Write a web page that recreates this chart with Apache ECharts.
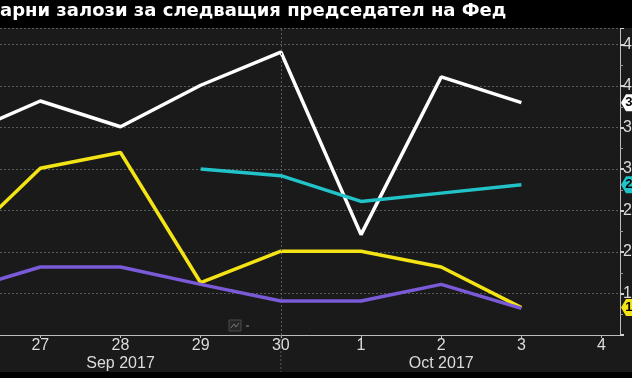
<!DOCTYPE html>
<html><head><meta charset="utf-8">
<script src="https://cdn.jsdelivr.net/npm/echarts@6/dist/echarts.min.js"></script>
<style>html,body{margin:0;padding:0;background:#000;overflow:hidden}#c{width:632px;height:378px;}</style>
</head><body><div id="c"></div>
<script>
const titleText = 'арни залози за следващия председател на Фед';
const dayLabels = ['26', '27', '28', '29', '30', '1', '2', '3', '4'];
const monthLabels = { 2: 'Sep 2017', 6: 'Oct 2017' };
const whiteVals  = [34.0, 38.2, 35.1, 40.1, 44.1, 22.1, 41.1, 38.0];
const yellowVals = [20.8, 30.1, 32.0, 16.3, 20.1, 20.1, 18.2, 13.3];
const purpleVals = [15.3, 18.2, 18.2, 16.1, 14.1, 14.1, 16.1, 13.2];
const cyanVals   = [null, null, null, 30.0, 29.2, 26.1, 27.1, 28.1];
const Y_MIN = 10, Y_MAX = 47, Y_STEP = 5;
const X_MIN = -1, X_MAX = 8.23;
const SEP_INDEX = 4;

const toPairs = arr => arr.map((v, i) => [i, v]).filter(p => p[1] !== null);
const lastOf = arr => { for (let i = arr.length - 1; i >= 0; i--) if (arr[i] !== null) return arr[i]; };

const chart = echarts.init(document.getElementById('c'), null, { renderer: 'canvas' });

function tag(arr, color, textColor) {
  const v = lastOf(arr);
  return {
    symbol: 'path://M0,8 L5,0 L30,0 L30,16 L5,16 Z',
    symbolSize: [30, 17],
    symbolOffset: [16, 0],
    silent: true,
    itemStyle: { color: color },
    label: { show: true, color: textColor, fontSize: 13, fontWeight: 'bold', fontFamily: 'Liberation Sans', offset: [2, 0], formatter: v.toFixed(1) },
    data: [{ coord: [X_MAX, v], value: v }]
  };
}

function lineSeries(name, arr, color, z, withTag, textColor) {
  const s = {
    name: name, type: 'line', data: toPairs(arr), showSymbol: false, symbol: 'none',
    lineStyle: { color: color, width: 3.5 }, itemStyle: { color: color }, z: z,
    animation: false, clip: false
  };
  if (withTag) s.markPoint = tag(arr, color, textColor);
  return s;
}

const axisTextStyle = { color: '#dcdcdc', fontSize: 16, fontFamily: 'Liberation Sans' };

const option = {
  backgroundColor: '#1a1a1a',
  animation: false,
  grid: { left: -120, right: 12, top: 28, bottom: 43, containLabel: false, outerBoundsMode: 'none' },
  xAxis: [{
    type: 'value', min: X_MIN, max: X_MAX, interval: 1,
    axisLine: { show: true, onZero: false, lineStyle: { color: '#bdbdbd', width: 1 } },
    axisTick: { show: true, length: 3, lineStyle: { color: '#bdbdbd' } },
    splitLine: { show: false },
    axisLabel: Object.assign({ margin: 3, showMaxLabel: false,
      formatter: v => (Number.isInteger(v) && v >= 0 && v < dayLabels.length) ? dayLabels[v] : '' }, axisTextStyle)
  }, {
    type: 'value', min: X_MIN, max: X_MAX, interval: 1, position: 'bottom', offset: 18,
    axisLine: { show: false, onZero: false }, axisTick: { show: false }, splitLine: { show: false },
    axisLabel: Object.assign({ margin: 3, showMaxLabel: false,
      formatter: v => monthLabels[v] || '' }, axisTextStyle)
  }],
  yAxis: {
    type: 'value', position: 'right', min: Y_MIN, max: Y_MAX, interval: Y_STEP,
    axisLine: { show: true, onZero: false, lineStyle: { color: '#bdbdbd', width: 1 } },
    axisTick: { show: true, length: 4, lineStyle: { color: '#d0d0d0', width: 2 } },
    minorTick: { show: true, splitNumber: 2, length: 3, lineStyle: { color: '#9a9a9a' } },
    splitLine: { show: true, lineStyle: { color: '#5a5a5a', type: [2, 2], width: 1 } },
    axisLabel: Object.assign({ margin: 3, showMaxLabel: false, showMinLabel: false,
      formatter: v => (v % Y_STEP === 0 && v > Y_MIN) ? String(v) : '' }, axisTextStyle)
  },
  series: [
    Object.assign(lineSeries('white', whiteVals, '#ffffff', 3, true, '#000'), {
      markLine: {
        silent: true, symbol: 'none', animation: false,
        lineStyle: { color: '#5a5a5a', type: [2, 2], width: 1 },
        label: { show: false },
        data: [{ xAxis: SEP_INDEX }]
      }
    }),
    lineSeries('yellow', yellowVals, '#f4e416', 4, true, '#000'),
    lineSeries('cyan', cyanVals, '#22c3c8', 5, true, '#000'),
    lineSeries('purple', purpleVals, '#7a5ad8', 6, false)
  ]
};
chart.setOption(option);

const sepTop = chart.convertToPixel({ xAxisIndex: 0, yAxisIndex: 0 }, [SEP_INDEX, Y_MIN]);
chart.setOption({
  graphic: [
    { type: 'rect', silent: true, z: 100, shape: { x: 0, y: 0, width: 632, height: 28 }, style: { fill: '#000' } },
    { type: 'rect', silent: true, z: 100, shape: { x: 0, y: 372, width: 632, height: 6 }, style: { fill: '#000' } },
    { type: 'text', silent: true, z: 101, left: 0, top: 2,
      style: { text: titleText, fill: '#ffffff', font: 'bold 18px "DejaVu Sans"' } },
    { type: 'line', silent: true, z: 50, shape: { x1: sepTop[0], y1: sepTop[1], x2: sepTop[0], y2: 372 },
      style: { stroke: '#5a5a5a', lineDash: [2, 2], lineWidth: 1 } },
    { type: 'rect', silent: true, z: 50, shape: { x: 229, y: 320, width: 12, height: 11 }, style: { fill: '#262626', stroke: '#4a4a4a', lineWidth: 1 } },
    { type: 'polyline', silent: true, z: 51, shape: { points: [[231, 328], [234, 324], [236, 327], [239, 323]] }, style: { stroke: '#7a7a7a', lineWidth: 1, fill: null } },
    { type: 'rect', silent: true, z: 50, shape: { x: 246, y: 325, width: 3, height: 2 }, style: { fill: '#555' } }
  ]
});
</script></body></html>
